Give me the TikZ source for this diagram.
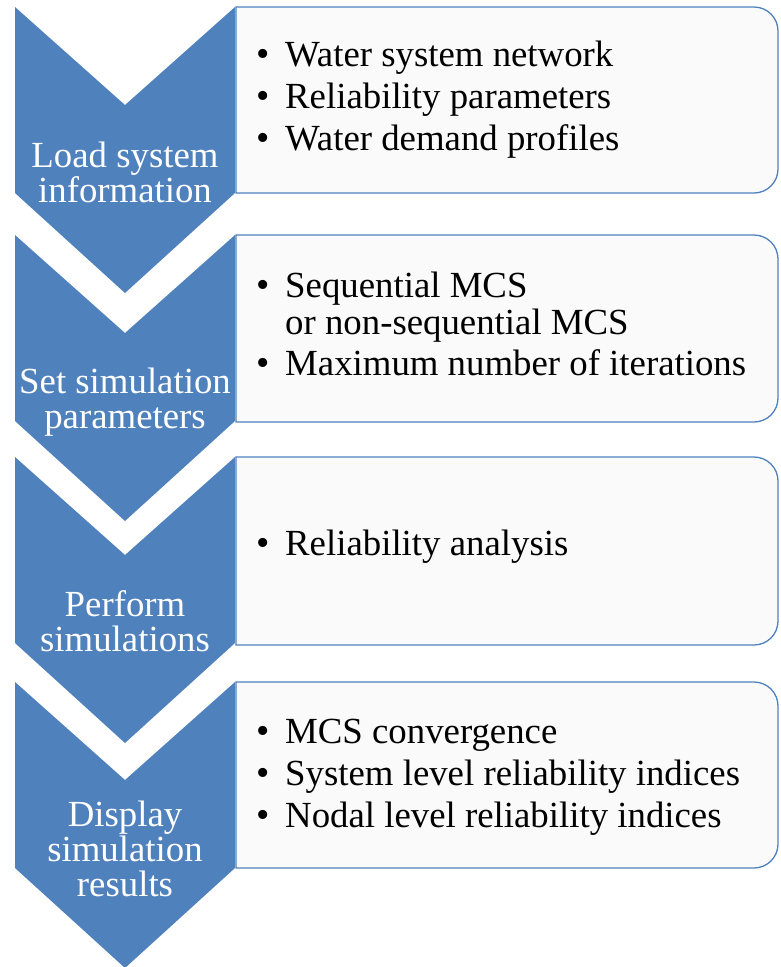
\documentclass[tikz,border=0pt]{standalone}
\usepackage{fontspec}
\setmainfont{Liberation Serif}
\definecolor{chevblue}{RGB}{79,129,189}
\definecolor{boxfill}{RGB}{250,250,250}
\begin{document}
\begin{tikzpicture}[x=1pt,y=-1pt,
  chevron/.style={fill=chevblue},
  infobox/.style={draw=chevblue, line width=1.3pt, fill=boxfill},
  chevtext/.style={text=white, anchor=base, inner sep=0pt, font=\fontsize{36.8}{35}\selectfont},
  itemtext/.style={text=black, anchor=base west, inner sep=0pt, font=\fontsize{36.8}{37}\selectfont},
  bulletmark/.style={text=black, anchor=base, inner sep=0pt, font=\fontsize{38}{38}\selectfont}]
\useasboundingbox (0,0) rectangle (780,967);
% chevrons
\foreach \t in {7,235,457,682}{
  \fill[chevron] (15,\t) -- (125,\t+98) -- (235,\t) -- (235,\t+186) -- (125,\t+286) -- (15,\t+186) -- cycle;
}
% boxes
\foreach \t/\b in {7/193,235/422,457/645,682/868}{
  \draw[infobox] (236,\t) -- (754,\t) arc[start angle=-90, end angle=0, radius=24] -- (778,\b-24) arc[start angle=0, end angle=90, radius=24] -- (236,\b) -- cycle;
}
% chevron texts
\node[chevtext] (c1a) at (125,167) {Load system};
\node[chevtext] (c1b) at (125,202) {information};
\node[chevtext] (c2a) at (125,393) {Set simulation};
\node[chevtext] (c2b) at (125,428) {parameters};
\node[chevtext] (c3a) at (125,616) {Perform};
\node[chevtext] (c3b) at (125,651) {simulations};
\node[chevtext] (c4a) at (125,826) {Display};
\node[chevtext] (c4b) at (125,861) {simulation};
\node[chevtext] (c4c) at (125,896) {results};
% box 1
\node[bulletmark] (b1a) at (263,66) {•};
\node[itemtext] (t1a) at (285,66) {Water system network};
\node[bulletmark] (b1b) at (263,108) {•};
\node[itemtext] (t1b) at (285,108) {Reliability parameters};
\node[bulletmark] (b1c) at (263,150) {•};
\node[itemtext] (t1c) at (285,150) {Water demand profiles};
% box 2
\node[bulletmark] (b2a) at (263,297) {•};
\node[itemtext] (t2a) at (285,297) {Sequential MCS};
\node[itemtext] (t2b) at (285,334) {or non-sequential MCS};
\node[bulletmark] (b2c) at (263,375) {•};
\node[itemtext] (t2c) at (285,375) {Maximum number of iterations};
% box 3
\node[bulletmark] (b3a) at (263,555) {•};
\node[itemtext] (t3a) at (285,555) {Reliability analysis};
% box 4
\node[bulletmark] (b4a) at (263,743) {•};
\node[itemtext] (t4a) at (285,743) {MCS convergence};
\node[bulletmark] (b4b) at (263,785) {•};
\node[itemtext] (t4b) at (285,785) {System level reliability indices};
\node[bulletmark] (b4c) at (263,827) {•};
\node[itemtext] (t4c) at (285,827) {Nodal level reliability indices};
\end{tikzpicture}
\end{document}
